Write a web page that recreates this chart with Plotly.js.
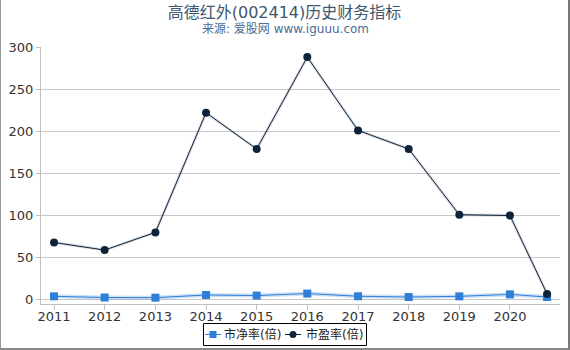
<!DOCTYPE html>
<html><head><meta charset="utf-8">
<script src="https://cdn.plot.ly/plotly-3.0.1.min.js"></script>
<style>
html,body{margin:0;padding:0;background:#fff;}
#wrap{width:567px;height:348px;border-left:1px solid #999;border-right:2px solid #777;border-bottom:2px solid #888;}
#chart{width:567px;height:348px;}
</style></head>
<body><div id="wrap"><div id="chart"></div></div>
<script>
const dates = ['2011-01-01','2012-01-01','2013-01-01','2014-01-01','2015-01-01','2016-01-01','2017-01-01','2018-01-01','2019-01-01','2020-01-01','2020-09-25'];
const pb = [4.1, 2.7, 2.5, 5.7, 5.0, 7.4, 4.2, 3.3, 4.1, 6.4, 3.3];
const pe = [68, 59, 80, 222, 179, 288, 201, 179, 101, 100, 7];
const tickVals = ['2011-01-01','2012-01-01','2013-01-01','2014-01-01','2015-01-01','2016-01-01','2017-01-01','2018-01-01','2019-01-01','2020-01-01'];
const tickText = ['2011','2012','2013','2014','2015','2016','2017','2018','2019','2020'];
const seriesNames = ['市净率(倍)', '市盈率(倍)'];
const seriesColors = ['#2f7ed8', '#0d233a'];
const nameFont = 'DejaVu Sans, Noto Sans CJK SC, sans-serif';

// plot area: page x 41..560, page y 47..304
const PX = x => (x - 41) / 519;
const PY = y => (304 - y) / 257;

const traces = [
  {x: dates, y: pb, mode:'lines', line:{color:'rgba(47,126,216,0.25)', width:4}, showlegend:false, hoverinfo:'skip'},
  {x: dates, y: pe, mode:'lines', line:{color:'rgba(13,35,58,0.15)', width:3}, showlegend:false, hoverinfo:'skip'},
  {x: dates, y: pb, name:seriesNames[0], mode:'lines+markers', line:{color:seriesColors[0], width:1}, marker:{symbol:'square', size:8, color:seriesColors[0]}, showlegend:false},
  {x: dates, y: pe, name:seriesNames[1], mode:'lines+markers', line:{color:seriesColors[1], width:1}, marker:{symbol:'circle', size:8, color:seriesColors[1]}, showlegend:false}
];

// manual legend
const legY = 334.5;
const shapes = [
  {type:'rect', xref:'paper', yref:'paper', x0:PX(203.5), x1:PX(366.5), y0:PY(323.5), y1:PY(345.5), line:{color:'#000', width:1}, fillcolor:'#fff', layer:'above'},
  {type:'line', xref:'paper', yref:'paper', x0:PX(205), x1:PX(221), y0:PY(legY), y1:PY(legY), line:{color:seriesColors[0], width:1}},
  {type:'rect', xref:'paper', yref:'paper', x0:PX(209.5), x1:PX(216.5), y0:PY(legY+3.5), y1:PY(legY-3.5), line:{width:0}, fillcolor:seriesColors[0]},
  {type:'line', xref:'paper', yref:'paper', x0:PX(285), x1:PX(301), y0:PY(legY), y1:PY(legY), line:{color:seriesColors[1], width:1}},
  {type:'circle', xref:'paper', yref:'paper', x0:PX(289.5), x1:PX(296.5), y0:PY(legY+3.5), y1:PY(legY-3.5), line:{width:0}, fillcolor:seriesColors[1]}
];

const layout = {
  width:567, height:348,
  margin:{l:40, r:8, t:47, b:44, autoexpand:false},
  paper_bgcolor:'#fff', plot_bgcolor:'#fff',
  font:{family:nameFont, color:'#333'},
  title:{text:'高德红外(002414)历史财务指标', font:{size:16, color:'#3E576F', family:nameFont}, x:0.5, xref:'container', xanchor:'center', y:1-12/348, yref:'container', yanchor:'middle'},
  annotations:[
    {text:'来源: 爱股网 www.iguuu.com', xref:'paper', yref:'paper', x:PX(285), y:PY(29), xanchor:'center', yanchor:'middle', showarrow:false, font:{size:12, color:'#4a6d94'}},
    {text:seriesNames[0], xref:'paper', yref:'paper', x:PX(222), y:PY(legY), xanchor:'left', yanchor:'middle', showarrow:false, font:{size:12, color:'#222'}},
    {text:seriesNames[1], xref:'paper', yref:'paper', x:PX(304), y:PY(legY), xanchor:'left', yanchor:'middle', showarrow:false, font:{size:12, color:'#222'}}
  ],
  shapes: shapes,
  xaxis:{type:'date', range:['2010-09-29','2020-12-27'], tickvals:tickVals, ticktext:tickText, showgrid:false, showline:true, linecolor:'#c0c0c0', linewidth:1, ticks:'outside', ticklen:5, tickcolor:'#c0c0c0', tickfont:{size:13, color:'#333'}, ticklabelstandoff:-5, zeroline:false, fixedrange:true},
  yaxis:{range:[-5,300], tickvals:[0,50,100,150,200,250,300], showgrid:true, gridcolor:'#c8c8c8', showline:true, linecolor:'#c0c0c0', ticks:'outside', ticklen:4, tickcolor:'#c0c0c0', tickfont:{size:13, color:'#333'}, zeroline:false, fixedrange:true},
  showlegend:false
};
Plotly.newPlot('chart', traces, layout, {displayModeBar:false, staticPlot:true});
</script></body></html>
